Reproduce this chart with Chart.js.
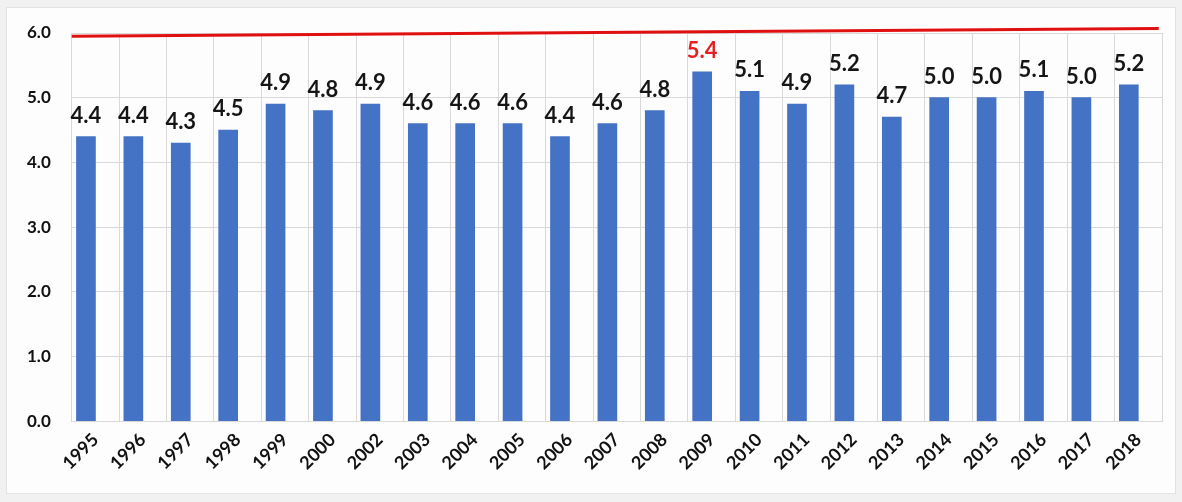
<!DOCTYPE html>
<html>
<head>
<meta charset="utf-8">
<script src="https://cdn.jsdelivr.net/npm/chart.js@4"></script>
<style>
  html, body { margin: 0; padding: 0; background: #f2f2f2; }
  canvas { display: block; }
</style>
</head>
<body>
<canvas id="rateChart" width="1182" height="502"></canvas>
<script>
// yearly values (2001 is not in the series)
const years = ['1995', '1996', '1997', '1998', '1999', '2000', '2002', '2003', '2004', '2005', '2006',
  '2007', '2008', '2009', '2010', '2011', '2012', '2013', '2014', '2015', '2016', '2017', '2018'];
const rates = [4.4, 4.4, 4.3, 4.5, 4.9, 4.8, 4.9, 4.6, 4.6, 4.6, 4.4,
  4.6, 4.8, 5.4, 5.1, 4.9, 5.2, 4.7, 5.0, 5.0, 5.1, 5.0, 5.2];
const highlightYear = '2009';

// reference line drawn across the top
const limitLineX = [0, 1];
const limitLineY = [5.95, 6.07];

const yTicks = [0, 1, 2, 3, 4, 5, 6];

const frame = {
  id: 'frame',
  beforeDraw(chart) {
    const c = chart.ctx;
    c.save();
    c.fillStyle = '#f1f1f1';
    c.fillRect(0, 0, chart.width, chart.height);
    c.fillStyle = '#fdfdfd';
    c.fillRect(6, 7, chart.width - 12, chart.height - 15);
    c.strokeStyle = '#e2e2e2';
    c.lineWidth = 1;
    c.strokeRect(6.5, 7.5, chart.width - 13, chart.height - 16);
    c.restore();
  }
};

// value labels above each bar
const barLabels = {
  id: 'barLabels',
  afterDatasetsDraw(chart) {
    const c = chart.ctx;
    const meta = chart.getDatasetMeta(0);
    c.save();
    c.font = 'bold 22px Lato';
    c.textAlign = 'center';
    c.textBaseline = 'bottom';
    meta.data.forEach((bar, i) => {
      c.fillStyle = years[i] === highlightYear ? '#e42020' : '#151515';
      c.fillText(rates[i].toFixed(1), bar.x, bar.y - 10);
    });
    c.restore();
  }
};

new Chart(document.getElementById('rateChart'), {
  data: {
    labels: years,
    datasets: [{
      type: 'bar',
      data: rates,
      backgroundColor: '#4472c4',
      barThickness: 19,
      order: 2
    }, {
      type: 'line',
      xAxisID: 'xLine',
      data: limitLineX.map((x, i) => ({ x: x, y: limitLineY[i] })),
      borderColor: '#e01010',
      borderWidth: 3,
      pointRadius: 0,
      clip: false,
      order: 1
    }]
  },
  options: {
    responsive: false,
    animation: false,
    layout: { padding: { left: 6, right: 20, top: 33, bottom: 20 } },
    plugins: { legend: { display: false }, tooltip: { enabled: false } },
    scales: {
      x: {
        type: 'category',
        grid: { color: '#d9d9d9', offset: true, drawTicks: false },
        border: { color: '#d9d9d9' },
        ticks: {
          color: '#111',
          font: { family: 'Lato', weight: 'bold', size: 18 },
          maxRotation: 45,
          minRotation: 45,
          padding: 8
        }
      },
      xLine: {
        type: 'linear',
        display: false,
        min: 0,
        max: 1.003
      },
      y: {
        min: 0,
        max: 6,
        afterBuildTicks(axis) { axis.ticks = yTicks.map(v => ({ value: v })); },
        grid: { color: '#d9d9d9', drawTicks: false },
        border: { display: false },
        ticks: {
          color: '#111',
          padding: 21,
          font: { family: 'Lato', weight: 'bold', size: 17 },
          callback: v => v.toFixed(1)
        }
      }
    }
  },
  plugins: [frame, barLabels]
});
</script>
</body>
</html>
